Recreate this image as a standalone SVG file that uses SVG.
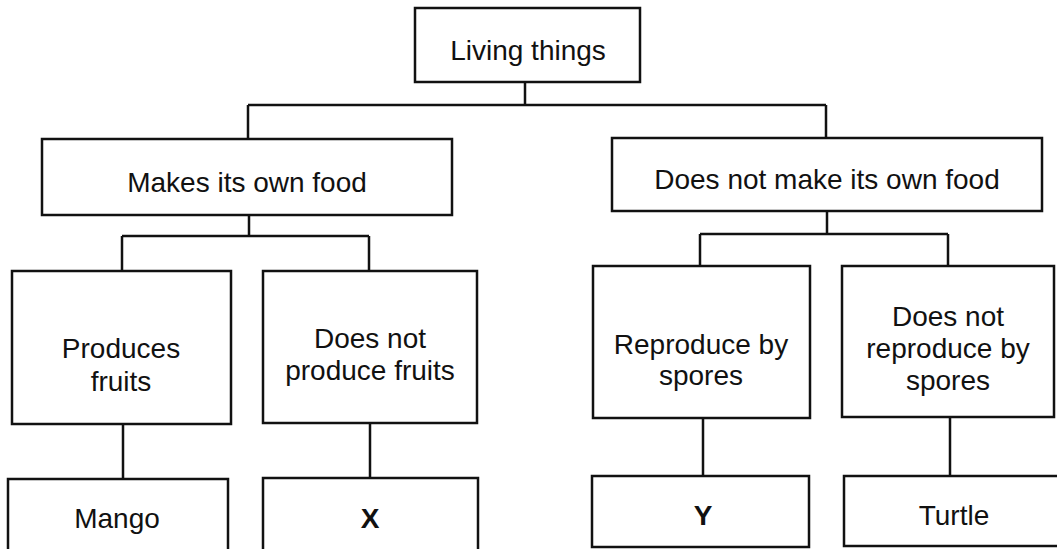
<svg xmlns="http://www.w3.org/2000/svg" width="1057" height="549" viewBox="0 0 1057 549">
<style>
.box{fill:#fff;stroke:#111;stroke-width:2.5}
.ln{fill:none;stroke:#111;stroke-width:2.5}
text{font-family:"Liberation Sans",Arial,sans-serif;font-size:28px;fill:#111;text-anchor:middle}
.b{font-weight:bold}
</style>
<rect width="1057" height="549" fill="#fff"/>
<g id="connectors">
<path class="ln" d="M525 82V105M248 105H826M248 105V139M826 105V138"/>
<path class="ln" d="M249 215V236M122 236H369M122 236V271M369 236V271"/>
<path class="ln" d="M827 211V234M700 234H948M700 234V266M948 234V266"/>
<path class="ln" d="M123 424V479M370 423V478M703 418V476M950 417V476"/>
</g>
<g id="n-living"><rect class="box" x="415" y="8" width="225" height="74"/><text x="528" y="60">Living things</text></g>
<g id="n-makes"><rect class="box" x="42" y="139" width="410" height="76"/><text x="247" y="192">Makes its own food</text></g>
<g id="n-notmake"><rect class="box" x="612" y="138" width="430" height="73"/><text x="827" y="189">Does not make its own food</text></g>
<g id="n-fruits"><rect class="box" x="12" y="271" width="219" height="153"/><text x="121" y="358">Produces</text><text x="121" y="391">fruits</text></g>
<g id="n-nofruits"><rect class="box" x="263" y="271" width="214" height="152"/><text x="370" y="348">Does not</text><text x="370" y="380">produce fruits</text></g>
<g id="n-spores"><rect class="box" x="593" y="266" width="217" height="152"/><text x="701" y="354">Reproduce by</text><text x="701" y="385">spores</text></g>
<g id="n-nospores"><rect class="box" x="842" y="266" width="212" height="151"/><text x="948" y="326">Does not</text><text x="948" y="358">reproduce by</text><text x="948" y="390">spores</text></g>
<g id="n-mango"><rect class="box" x="8" y="479" width="220" height="90"/><text x="117" y="528">Mango</text></g>
<g id="n-x"><rect class="box" x="263" y="478" width="215" height="90"/><text class="b" x="370" y="528">X</text></g>
<g id="n-y"><rect class="box" x="592" y="476" width="217" height="71"/><text class="b" x="703" y="525">Y</text></g>
<g id="n-turtle"><rect class="box" x="844" y="476" width="230" height="70"/><text x="954" y="525">Turtle</text></g>
</svg>
